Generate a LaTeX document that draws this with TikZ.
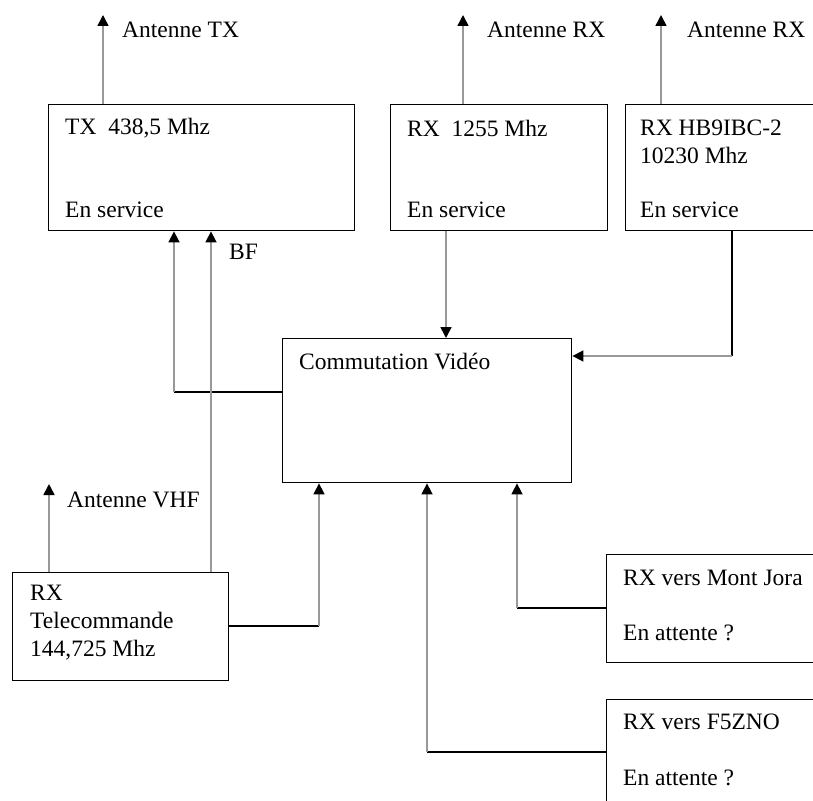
\documentclass[tikz,border=0pt]{standalone}
\usepackage{fontspec}
\setmainfont{Liberation Serif}
\usetikzlibrary{arrows.meta}
\begin{document}
\begin{tikzpicture}[x=1pt,y=-1pt,
  box/.style={draw=black,line width=1.4pt,inner sep=0pt,anchor=north west},
  txt/.style={inner sep=0pt,anchor=west,font=\fontsize{23.5}{28}\selectfont,align=left},
  hl/.style={draw=black,line width=1.4pt},
  vl/.style={draw=black!40,line width=1.6pt},
  arr/.style={-{Triangle[width=11pt,length=11pt,color=black]}}]
\clip (0,0) rectangle (813,800);
\fill[white] (0,0) rectangle (813,800);
% boxes
\node[box,minimum width=306pt,minimum height=126pt] (tx) at (48,104) {};
\node[box,minimum width=217pt,minimum height=126pt] (rx1) at (390,104) {};
\node[box,minimum width=210pt,minimum height=126pt] (hb) at (625,104) {};
\node[box,minimum width=289pt,minimum height=144pt] (comm) at (282,338) {};
\node[box,minimum width=216pt,minimum height=108pt] (tel) at (12,572) {};
\node[box,minimum width=220pt,minimum height=108pt] (jora) at (606,554) {};
\node[box,minimum width=220pt,minimum height=130pt] (f5) at (606,699) {};
% texts
\node[txt] (t1) at (65,128) {TX\ \ 438,5 Mhz};
\node[txt] (t2) at (65,210) {En service};
\node[txt] (t3) at (407,128) {RX\ \ 1255 Mhz};
\node[txt] (t4) at (407,210) {En service};
\node[txt] (t5) at (640,142) {RX HB9IBC-2\\10230 Mhz};
\node[txt] (t6) at (640,210) {En service};
\node[txt] (t7) at (299,362) {Commutation Vidéo};
\node[txt] (t8) at (30,623) {RX\\Telecommande\\144,725 Mhz};
\node[txt] (t9) at (623,578) {RX vers Mont Jora};
\node[txt] (t10) at (623,633) {En attente ?};
\node[txt] (t11) at (623,722) {RX vers F5ZNO};
\node[txt] (t12) at (623,778) {En attente ?};
\node[txt] (l1) at (122,30) {Antenne TX};
\node[txt] (l2) at (487,30) {Antenne RX};
\node[txt] (l3) at (687,30) {Antenne RX};
\node[txt] (l4) at (67,500) {Antenne VHF};
\node[txt] (l5) at (229,252) {BF};
% antenna tips
\coordinate (a1) at (103,15);
\coordinate (a2) at (463,15);
\coordinate (a3) at (661,15);
\coordinate (a4) at (49,484);
\draw[vl,arr] (a1 |- tx.north) -- (a1);
\draw[vl,arr] (a2 |- rx1.north) -- (a2);
\draw[vl,arr] (a3 |- hb.north) -- (a3);
\draw[vl,arr] (a4 |- tel.north) -- (a4);
% comm -> tx
\coordinate (k1) at (174,392);
\draw[hl] (comm.west |- k1) -- (k1);
\draw[vl,arr] (k1) -- (k1 |- tx.south);
% BF
\coordinate (k2) at (211,400);
\draw[vl,arr] (k2 |- tel.north) -- (k2 |- tx.south);
% rx1 -> comm
\coordinate (k3) at (446,300);
\draw[vl,arr] (k3 |- rx1.south) -- (k3 |- comm.north);
% hb -> comm
\coordinate (k4) at (732,356);
\draw[hl] (k4 |- hb.south) -- (k4);
\draw[vl,arr] (k4) -- (k4 -| comm.east);
% tel -> comm
\coordinate (k5) at (319,626);
\draw[hl] (tel.east |- k5) -- (k5);
\draw[vl,arr] (k5) -- (k5 |- comm.south);
% jora -> comm
\coordinate (k6) at (517,608);
\draw[hl] (jora.west |- k6) -- (k6);
\draw[vl,arr] (k6) -- (k6 |- comm.south);
% f5 -> comm
\coordinate (k7) at (427,752);
\draw[hl] (f5.west |- k7) -- (k7);
\draw[vl,arr] (k7) -- (k7 |- comm.south);
\end{tikzpicture}
\end{document}
